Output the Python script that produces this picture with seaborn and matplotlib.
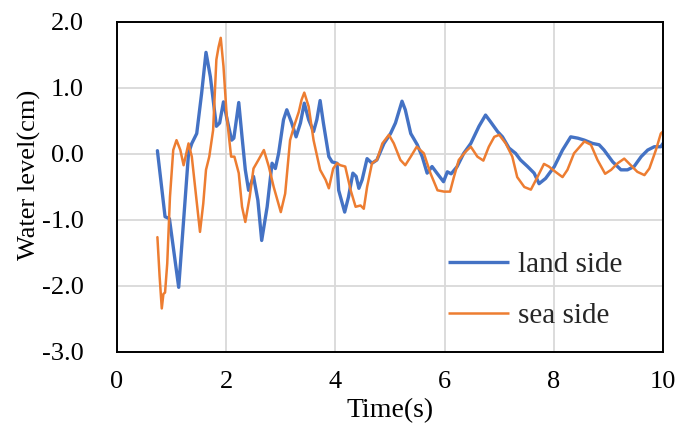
import numpy as np
import pandas as pd
import matplotlib
matplotlib.use("Agg")
import matplotlib.pyplot as plt
import seaborn as sns

# ---- data ----
land_t = [0.74, 0.88, 0.96, 1.13, 1.31, 1.37, 1.46, 1.55, 1.63, 1.71, 1.82, 1.88, 1.95, 2.03, 2.10,
          2.14, 2.23, 2.29, 2.35, 2.41, 2.50, 2.58, 2.65, 2.75, 2.84, 2.90, 2.96, 3.05, 3.11, 3.20,
          3.28, 3.36, 3.43, 3.51, 3.60, 3.66, 3.72, 3.78, 3.88, 3.94, 4.03, 4.06, 4.17, 4.24, 4.32,
          4.38, 4.43, 4.49, 4.58, 4.67, 4.76, 4.89, 5.01, 5.10, 5.22, 5.28, 5.38, 5.50, 5.59, 5.68,
          5.77, 5.86, 5.98, 6.05, 6.12, 6.23, 6.35, 6.48, 6.63, 6.75, 6.84, 6.97, 7.06, 7.18, 7.30,
          7.39, 7.52, 7.64, 7.73, 7.85, 8.01, 8.16, 8.31, 8.44, 8.56, 8.71, 8.83, 8.92, 9.08, 9.23,
          9.35, 9.47, 9.60, 9.72, 9.84, 9.96, 10.0]
land_v = [0.05, -0.95, -0.98, -2.02, 0.01, 0.16, 0.31, 0.92, 1.54, 1.17, 0.42, 0.47, 0.79, 0.47, 0.21,
          0.24, 0.78, 0.26, -0.24, -0.55, -0.34, -0.70, -1.31, -0.80, -0.14, -0.22, 0.01, 0.52, 0.67, 0.47,
          0.26, 0.47, 0.77, 0.52, 0.34, 0.52, 0.81, 0.47, -0.04, -0.12, -0.14, -0.55, -0.88, -0.65, -0.29,
          -0.34, -0.52, -0.39, -0.07, -0.14, -0.09, 0.16, 0.31, 0.47, 0.80, 0.67, 0.31, 0.14, -0.04, -0.29,
          -0.19, -0.29, -0.42, -0.27, -0.30, -0.19, 0.01, 0.16, 0.42, 0.59, 0.49, 0.34, 0.26, 0.09, 0.01,
          -0.09, -0.19, -0.29, -0.45, -0.37, -0.19, 0.06, 0.26, 0.24, 0.21, 0.16, 0.14, 0.06, -0.12, -0.24,
          -0.24, -0.19, -0.04, 0.06, 0.11, 0.11, 0.16]

sea_t = [0.74, 0.78, 0.82, 0.85, 0.88, 0.92, 0.97, 1.03, 1.09, 1.16, 1.22, 1.31, 1.37, 1.45, 1.52,
         1.58, 1.63, 1.69, 1.76, 1.82, 1.86, 1.90, 1.95, 2.01, 2.09, 2.15, 2.23, 2.29, 2.35, 2.43,
         2.50, 2.59, 2.69, 2.78, 2.87, 3.00, 3.08, 3.17, 3.25, 3.33, 3.38, 3.43, 3.51, 3.60, 3.72,
         3.82, 3.88, 3.96, 4.03, 4.09, 4.18, 4.28, 4.37, 4.46, 4.52, 4.58, 4.67, 4.76, 4.86, 4.98,
         5.07, 5.19, 5.28, 5.38, 5.49, 5.62, 5.74, 5.87, 5.99, 6.10, 6.17, 6.26, 6.39, 6.48, 6.60,
         6.71, 6.81, 6.91, 7.00, 7.12, 7.24, 7.33, 7.46, 7.58, 7.70, 7.82, 7.91, 8.03, 8.16, 8.25,
         8.37, 8.56, 8.68, 8.80, 8.94, 9.05, 9.17, 9.29, 9.41, 9.53, 9.66, 9.75, 9.87, 9.96, 10.0]
sea_v = [-1.26, -1.85, -2.34, -2.12, -2.10, -1.66, -0.65, 0.06, 0.21, 0.06, -0.17, 0.16, -0.04, -0.65, -1.18,
         -0.75, -0.24, -0.04, 0.36, 1.43, 1.62, 1.76, 1.33, 0.57, -0.04, -0.04, -0.29, -0.80, -1.03, -0.65,
         -0.22, -0.09, 0.06, -0.19, -0.50, -0.88, -0.60, 0.21, 0.44, 0.64, 0.82, 0.93, 0.72, 0.21, -0.24,
         -0.39, -0.52, -0.22, -0.14, -0.17, -0.19, -0.55, -0.80, -0.78, -0.83, -0.50, -0.14, -0.09, 0.16, 0.29,
         0.16, -0.09, -0.17, -0.04, 0.11, 0.01, -0.29, -0.55, -0.57, -0.57, -0.35, -0.09, 0.04, 0.11, -0.04,
         -0.10, 0.11, 0.26, 0.29, 0.16, -0.04, -0.35, -0.50, -0.54, -0.35, -0.15, -0.19, -0.27, -0.35, -0.24,
         0.01, 0.19, 0.14, -0.09, -0.30, -0.24, -0.14, -0.07, -0.17, -0.27, -0.32, -0.22, 0.06, 0.31, 0.34]

series_names = ["land side", "sea side"]
x_ticks = [0, 2, 4, 6, 8, 10]
y_ticks = [-3.0, -2.0, -1.0, 0.0, 1.0, 2.0]

# ---- plotting ----
sns.set_theme(style="white")
plt.rcParams["font.family"] = ["Liberation Serif", "DejaVu Serif"]
plt.rcParams["axes.unicode_minus"] = False

fig = plt.figure(figsize=(6.83, 4.33), dpi=100)
ax = fig.add_axes([117 / 683, 1 - 352 / 433, 546 / 683, 330 / 433])

df_land = pd.DataFrame({"t": land_t, "v": land_v})
df_sea = pd.DataFrame({"t": sea_t, "v": sea_v})

sns.lineplot(data=df_land, x="t", y="v", ax=ax, color="#4472C4", linewidth=2.4,
             sort=False, estimator=None, label=series_names[0],
             solid_joinstyle="round", solid_capstyle="round")
sns.lineplot(data=df_sea, x="t", y="v", ax=ax, color="#ED7D31", linewidth=1.8,
             sort=False, estimator=None, label=series_names[1],
             solid_joinstyle="round", solid_capstyle="round")

ax.set_xlim(0, 10)
ax.set_ylim(-3, 2)
ax.set_xticks(x_ticks)
ax.set_yticks(y_ticks)
ax.set_xticklabels([str(v) for v in x_ticks])
ax.set_yticklabels([f"{v:.1f}" for v in y_ticks])
ax.tick_params(axis="both", length=0, labelsize=19, colors="black")
ax.tick_params(axis="x", pad=14)
ax.tick_params(axis="y", pad=24)

ax.grid(True, color="#D9D9D9", linewidth=1.3)
ax.set_axisbelow(True)
for sp in ax.spines.values():
    sp.set_color("black")
    sp.set_linewidth(1.4)
    sp.set_visible(True)

ax.set_xlabel("Time(s)", fontsize=20, color="black")
ax.set_ylabel("Water level(cm)", fontsize=19, color="black")
ax.xaxis.set_label_coords(0.5, -0.14)
ax.yaxis.set_label_coords(-0.14, 0.536)

leg = ax.legend(loc="upper left", bbox_to_anchor=(0.606, 0.305), frameon=False, fontsize=21,
                handlelength=2.1, handletextpad=0.3, labelspacing=0.85, borderpad=0, borderaxespad=0)
for line in leg.get_lines():
    line.set_solid_capstyle("butt")

fig.savefig("out.png", dpi=100)
